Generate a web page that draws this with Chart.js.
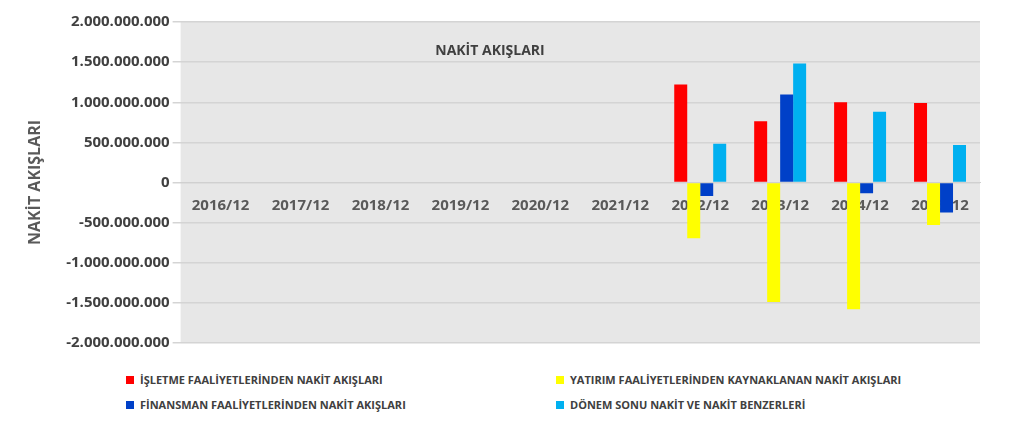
<html>
<head>
  <script src="https://cdn.jsdelivr.net/npm/chart.js"></script>
  <style>
    body { margin: 0; background: #fff; font-family: "Open Sans", sans-serif; }
    .wrap { position: relative; width: 1024px; height: 444px; }
    #c { position: absolute; left: 0; top: 0; }
    .leg { position: absolute; font-size: 11px; font-weight: bold; color: #404040; white-space: nowrap; }
    .leg i { display: inline-block; width: 8px; height: 8px; margin-right: 6px; }
  </style>
</head>
<body>
<div class="wrap">
  <canvas id="c" width="1024" height="360"></canvas>
  <div class="leg" style="left:126px;top:372px"><i style="background:#ff0000"></i>İŞLETME FAALİYETLERİNDEN NAKİT AKIŞLARI</div>
  <div class="leg" style="left:556px;top:372px"><i style="background:#ffff00"></i>YATIRIM FAALİYETLERİNDEN KAYNAKLANAN NAKİT AKIŞLARI</div>
  <div class="leg" style="left:126px;top:397px"><i style="background:#0040c8"></i>FİNANSMAN FAALİYETLERİNDEN NAKİT AKIŞLARI</div>
  <div class="leg" style="left:556px;top:397px"><i style="background:#00b0f0"></i>DÖNEM SONU NAKİT VE NAKİT BENZERLERİ</div>
</div>
<script>
  const labels = ["2016/12","2017/12","2018/12","2019/12","2020/12","2021/12","2022/12","2023/12","2024/12","2025/12"];
  const isletme = [null,null,null,null,null,null,1221000000,762000000,1000000000,992000000];
  const yatirim = [null,null,null,null,null,null,-696000000,-1488000000,-1579000000,-529000000];
  const finansman = [null,null,null,null,null,null,-167000000,1096000000,-133000000,-375000000];
  const donemSonu = [null,null,null,null,null,null,483000000,1483000000,883000000,467000000];

  const bgPlugin = {
    id: 'bg',
    beforeDraw(chart) {
      const { ctx, chartArea: a } = chart;
      ctx.save();
      ctx.fillStyle = '#e7e7e7';
      ctx.fillRect(a.left, a.top, a.right - a.left, a.bottom - a.top);
      ctx.restore();
    },
    afterDraw(chart) {
      const ctx = chart.ctx;
      ctx.save();
      ctx.fillStyle = '#404040';
      ctx.font = 'bold 14px "Open Sans"';
      ctx.textAlign = 'center';
      ctx.fillText('NAKİT AKIŞLARI', 490, 55);
      ctx.restore();
    }
  };

  new Chart(document.getElementById('c'), {
    type: 'bar',
    data: {
      labels: labels,
      datasets: [
        { data: isletme, backgroundColor: '#ff0000' },
        { data: yatirim, backgroundColor: '#ffff00' },
        { data: finansman, backgroundColor: '#0040c8' },
        { data: donemSonu, backgroundColor: '#00b0f0' }
      ]
    },
    options: {
      responsive: false,
      animation: false,
      layout: { padding: { top: 22, bottom: 17, right: 44, left: 22 } },
      datasets: { bar: { categoryPercentage: 0.65, barPercentage: 1 } },
      plugins: { legend: { display: false }, tooltip: { enabled: false } },
      scales: {
        x: {
          position: { y: 0 },
          z: 1,
          grid: { display: false },
          border: { color: '#d0d0d0' },
          ticks: { color: '#595959', font: { size: 15, weight: 'bold', family: 'Open Sans' }, padding: 6 }
        },
        y: {
          min: -2000000000, max: 2000000000,
          grid: { color: '#d4d4d4', lineWidth: 1.5 },
          border: { display: false },
          title: { display: true, text: 'NAKİT AKIŞLARI', color: '#595959', font: { size: 16, weight: 'bold', family: 'Open Sans' }, padding: { bottom: 18 } },
          ticks: {
            stepSize: 500000000,
            color: '#404040',
            font: { size: 15, weight: 'bold', family: 'Open Sans' },
            callback: v => v.toLocaleString('de-DE')
          }
        }
      }
    },
    plugins: [bgPlugin]
  });
</script>
</body>
</html>
